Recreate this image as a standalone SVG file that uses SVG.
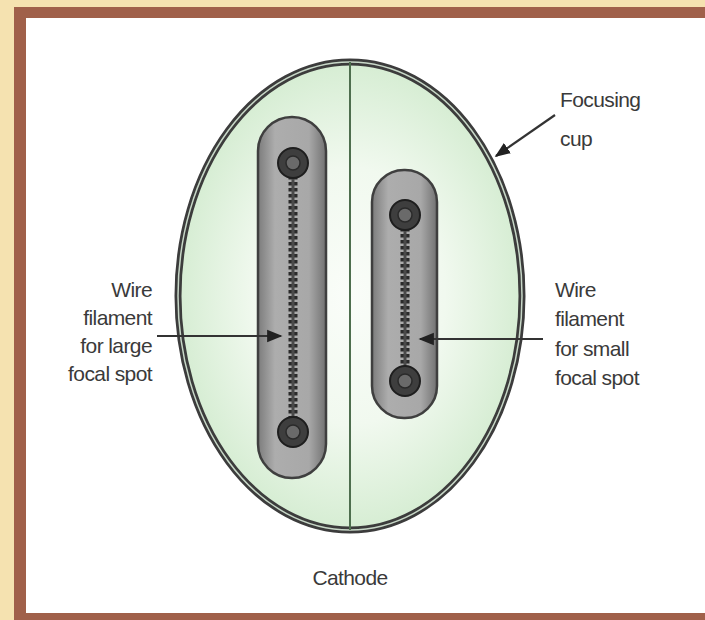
<svg xmlns="http://www.w3.org/2000/svg" width="705" height="620" viewBox="0 0 705 620">
  <style>
    .lbl { font-family: "Liberation Sans", Arial, sans-serif; font-size: 21px; fill: #3a3a3a; letter-spacing: -0.6px; }
    .lead { stroke: #333; stroke-width: 2.2; fill: none; }
    .capsule { fill: url(#capsuleFill); stroke: #3f3f3f; stroke-width: 2.5; }
    .wire { stroke: #2a2a2a; stroke-width: 9; stroke-dasharray: 3.5 2.5; fill: none; }
    .wirecore { stroke: #4a4a4a; stroke-width: 3; fill: none; }
    .post { fill: #3e3e3e; stroke: #1e1e1e; stroke-width: 2; }
    .postIn { fill: #6a6a6a; stroke: #2a2a2a; stroke-width: 1.5; }
  </style>
  <defs>
    <radialGradient id="cupFill" cx="0.5" cy="0.5" r="0.5">
      <stop offset="0" stop-color="#fafdf9"/>
      <stop offset="0.55" stop-color="#f1f9ef"/>
      <stop offset="1" stop-color="#d6edd3"/>
    </radialGradient>
    <linearGradient id="capsuleFill" x1="0" y1="0" x2="1" y2="0">
      <stop offset="0" stop-color="#7c7c7c"/>
      <stop offset="0.25" stop-color="#adadad"/>
      <stop offset="0.75" stop-color="#a8a8a8"/>
      <stop offset="1" stop-color="#727272"/>
    </linearGradient>
    <marker id="arrow" viewBox="0 0 10 10" refX="9" refY="5" markerWidth="7" markerHeight="7" orient="auto">
      <path d="M0,1 L10,5 L0,9 z" fill="#222"/>
    </marker>
  </defs>

  <!-- frame -->
  <rect x="0" y="0" width="705" height="620" fill="#f5e2b0"/>
  <rect x="14" y="7" width="700" height="620" fill="#a0604a"/>
  <rect x="26" y="18" width="690" height="595" fill="#ffffff"/>

  <!-- focusing cup -->
  <g id="focusing-cup">
    <ellipse cx="350" cy="296" rx="172" ry="234" fill="url(#cupFill)" stroke="#3c3c3c" stroke-width="7"/>
    <ellipse cx="350" cy="296" rx="172" ry="234" fill="none" stroke="#c8d8c8" stroke-width="1.5"/>
    <line x1="350" y1="62" x2="350" y2="530" stroke="#4e6e4e" stroke-width="2"/>
  </g>

  <!-- large filament -->
  <g id="large-filament">
    <rect class="capsule" x="258" y="117" width="68" height="361" rx="34" ry="34"/>
    <line class="wire" x1="293" y1="170" x2="293" y2="425"/>
    <line class="wirecore" x1="293" y1="170" x2="293" y2="425"/>
    <circle class="post" cx="293" cy="163" r="15"/>
    <circle class="postIn" cx="293" cy="163" r="7"/>
    <circle class="post" cx="293" cy="432" r="15"/>
    <circle class="postIn" cx="293" cy="432" r="7"/>
  </g>

  <!-- small filament -->
  <g id="small-filament">
    <rect class="capsule" x="372" y="170" width="65" height="248" rx="32" ry="32"/>
    <line class="wire" x1="405" y1="222" x2="405" y2="374"/>
    <line class="wirecore" x1="405" y1="222" x2="405" y2="374"/>
    <circle class="post" cx="405" cy="215" r="15"/>
    <circle class="postIn" cx="405" cy="215" r="7"/>
    <circle class="post" cx="405" cy="381" r="15"/>
    <circle class="postIn" cx="405" cy="381" r="7"/>
  </g>

  <!-- connectors -->
  <g id="connectors">
    <line class="lead" x1="157" y1="336" x2="281" y2="336" marker-end="url(#arrow)"/>
    <line class="lead" x1="543" y1="339" x2="420" y2="339" marker-end="url(#arrow)"/>
    <line class="lead" x1="555" y1="115" x2="496" y2="156" marker-end="url(#arrow)"/>
  </g>

  <!-- labels -->
  <g id="label-cup">
    <text class="lbl" x="560" y="107">Focusing</text>
    <text class="lbl" x="560" y="146">cup</text>
  </g>
  <g id="label-large">
    <text class="lbl" x="152" y="297" text-anchor="end">Wire</text>
    <text class="lbl" x="152" y="325" text-anchor="end">filament</text>
    <text class="lbl" x="152" y="353" text-anchor="end">for large</text>
    <text class="lbl" x="152" y="381" text-anchor="end">focal spot</text>
  </g>
  <g id="label-small">
    <text class="lbl" x="555" y="297">Wire</text>
    <text class="lbl" x="555" y="326">filament</text>
    <text class="lbl" x="555" y="356">for small</text>
    <text class="lbl" x="555" y="385">focal spot</text>
  </g>
  <g id="label-cathode">
    <text class="lbl" x="350" y="585" text-anchor="middle">Cathode</text>
  </g>
</svg>
